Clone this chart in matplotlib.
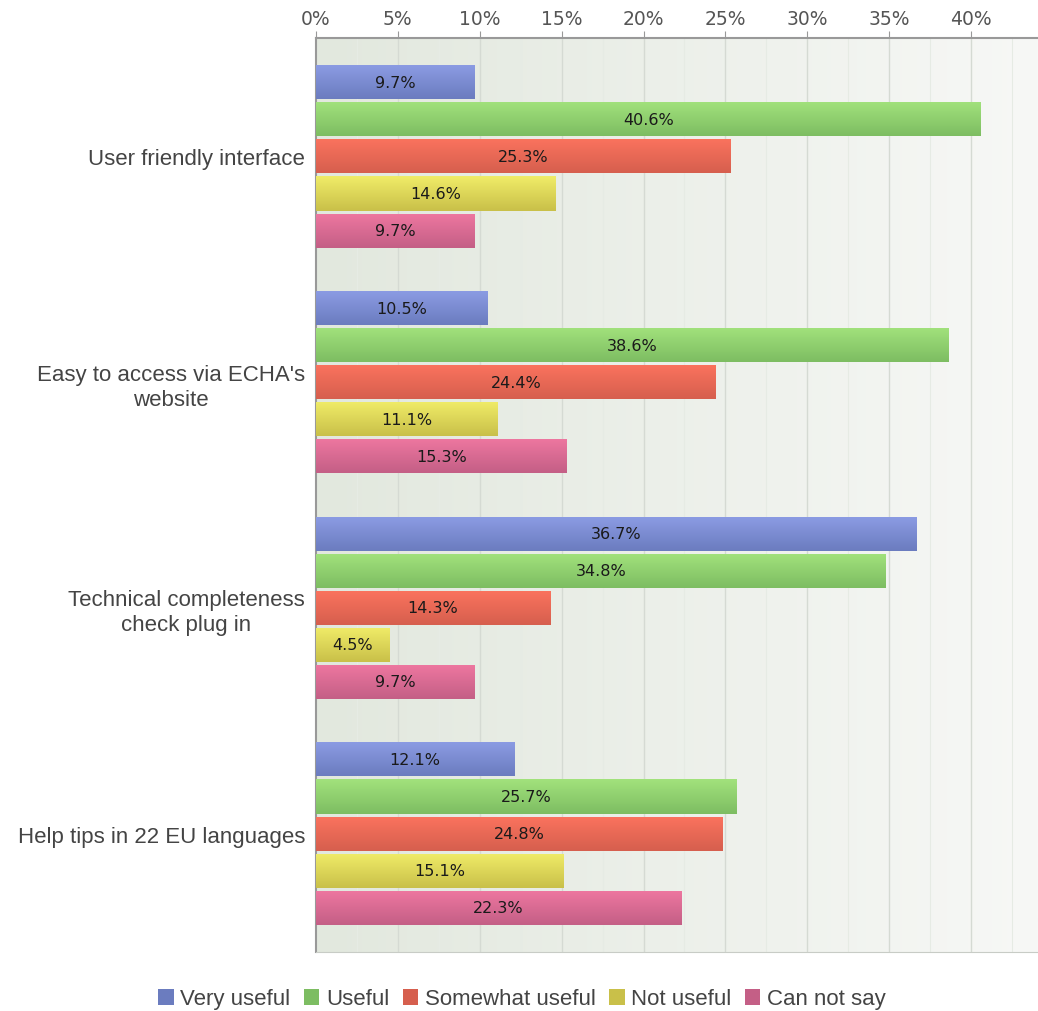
import numpy as np
import matplotlib
matplotlib.use("Agg")
import matplotlib.pyplot as plt
from matplotlib.colors import LinearSegmentedColormap, to_rgb
from matplotlib.patches import Patch

# survey answers, in percent
categories = [
    "User friendly interface",
    "Easy to access via ECHA's\nwebsite",
    "Technical completeness\ncheck plug in",
    "Help tips in 22 EU languages",
]
series_names = ["Very useful", "Useful", "Somewhat useful", "Not useful", "Can not say"]
very_useful = [9.7, 10.5, 36.7, 12.1]
useful = [40.6, 38.6, 34.8, 25.7]
somewhat_useful = [25.3, 24.4, 14.3, 24.8]
not_useful = [14.6, 11.1, 4.5, 15.1]
can_not_say = [9.7, 15.3, 9.7, 22.3]
series_values = [very_useful, useful, somewhat_useful, not_useful, can_not_say]
x_ticks = [0, 5, 10, 15, 20, 25, 30, 35, 40]

# top / bottom shade of each bar
shades = [
    ("#8c9ce4", "#6b7cbf"),
    ("#a2e27c", "#7dbd62"),
    ("#fb735e", "#d65f4e"),
    ("#f0ec68", "#c9c049"),
    ("#ee77a0", "#c45f86"),
]
sans = ["Liberation Sans", "DejaVu Sans"]

fig = plt.figure(figsize=(10.38, 10.12), dpi=100)
ax = fig.add_axes([316 / 1038, 1 - 953 / 1012, 722 / 1038, 914 / 1012])

xmax = 722 / 16.375
ax.set_xlim(0, xmax)
ax.set_ylim(3.525, -0.525)

# plot area background, light green fading to the right
bg = LinearSegmentedColormap.from_list("bg", ["#e2e8de", "#f7f8f6"])
ax.imshow(np.linspace(0, 1, 256).reshape(1, -1), cmap=bg, aspect="auto",
          extent=(0, xmax, 3.525, -0.525), zorder=0)

for x in np.arange(2.5, xmax, 2.5):
    lw, col = (1.0, "#d5dad3") if x % 5 == 0 else (0.8, "#e6ebe4")
    ax.axvline(x, color=col, lw=lw, zorder=1)

pitch = 37 / 225.6
height = 34 / 225.6
ypos = np.arange(len(categories))

for j, (vals, (top, bot)) in enumerate(zip(series_values, shades)):
    cmap = LinearSegmentedColormap.from_list("s%d" % j, [to_rgb(top), to_rgb(bot)])
    y = ypos + (j - 2) * pitch
    bars = ax.barh(y, vals, height=height, color=bot, edgecolor="none", zorder=2)
    for rect, v, yc in zip(bars, vals, y):
        im = ax.imshow(np.linspace(0, 1, 64).reshape(-1, 1), cmap=cmap, aspect="auto",
                       extent=(0, v, yc + height / 2, yc - height / 2), zorder=3)
        im.set_clip_path(rect)
        ax.text(v / 2, yc, "%.1f%%" % v, ha="center", va="center",
                fontsize=11.5, color="#1a1a1a", zorder=4)

ax.set_xlim(0, xmax)
ax.set_ylim(3.525, -0.525)

ax.xaxis.tick_top()
ax.set_xticks(x_ticks)
ax.set_xticklabels(["%d%%" % t for t in x_ticks], fontsize=13.5, color="#555555")
ax.tick_params(axis="x", direction="out", length=5, color="#999999", pad=2)

ax.set_yticks(ypos)
ax.set_yticklabels(categories, fontsize=16, color="#444444", family=sans,
                   linespacing=1.25)
for lab in ax.get_yticklabels():
    lab.set_multialignment("center")
ax.tick_params(axis="y", length=0, pad=8)

for side in ["top", "left"]:
    ax.spines[side].set_color("#999999")
    ax.spines[side].set_linewidth(1.5)
ax.spines["bottom"].set_color("#c8ccc6")
ax.spines["right"].set_visible(False)

handles = [Patch(facecolor=bot, edgecolor="none") for _, bot in shades]
fig.legend(handles, series_names, loc="center", bbox_to_anchor=(522 / 1038, 1 - 1000 / 1012),
           ncol=5, frameon=False, handlelength=0.7, handleheight=0.7, handletextpad=0.3,
           columnspacing=0.6, prop={"family": sans, "size": 16},
           labelcolor="#444444")

fig.savefig("out.png", dpi=100)
